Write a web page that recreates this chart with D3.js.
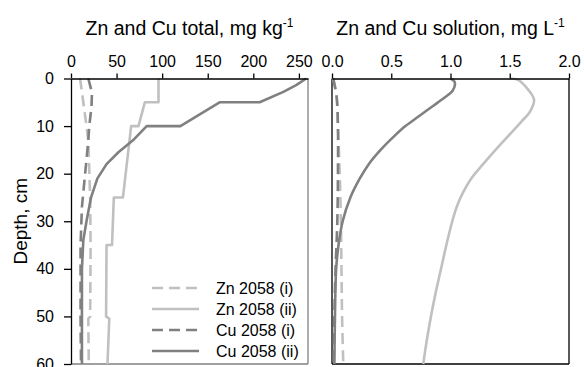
<!DOCTYPE html>
<html><head><meta charset="utf-8">
<script src="https://cdn.jsdelivr.net/npm/d3@7"></script>
<style>body{margin:0;background:#fff}svg{display:block}text{font-family:"Liberation Sans",Arial,sans-serif}</style>
</head><body>
<svg id="c" width="584" height="367"></svg>
<script>
// ---- data ----
const depthTicks = [0,10,20,30,40,50,60];
const totalTicks = [0,50,100,150,200,250];
const solTicks = [0,0.5,1.0,1.5,2.0];
const legendLabels = ["Zn 2058 (i)","Zn 2058 (ii)","Cu 2058 (i)","Cu 2058 (ii)"];

// Total (mg/kg) profiles: depth (cm) and value
const znTotI_depth = [0,5,10,13,25,35,50,50.5,60];
const znTotI_val   = [10,13.5,17,19,21,21.5,21,19,19.5];
const znTotII_depth = [0,5,5,10,10,25,25,35,35,50,50.5,60];
const znTotII_val   = [96,96,81,74,66,57,47,45,39,38.5,42,40];
const cuTotI_depth = [0,3,6,10,13,20,27,35,50,60];
const cuTotI_val   = [19,23,22.5,20,19,15.5,12,10.5,10.5,11];
const cuTotII_depth = [0,1.4,2.8,5,5,10,10,13,15.5,18,21,25,30,34,40,50,60];
const cuTotII_val   = [258,247,233,207,163,120,83,68,52,39,29,22,17,13.5,12,12,12];

// Solution (mg/L) profiles
const znSolI_depth = [0,3,10,20,30,40,50,60];
const znSolI_val   = [0.01,0.035,0.05,0.065,0.075,0.08,0.085,0.095];
const znSolII_depth = [0,0.3,2.4,4.5,7,9,12,15,18,21,24,27,30,35,40,45,50,55,60];
const znSolII_val   = [1.50,1.57,1.657,1.705,1.67,1.60,1.49,1.38,1.275,1.175,1.105,1.052,1.015,0.965,0.92,0.875,0.835,0.80,0.77];
const cuSolI_depth = [0,4,10,20,30,40,50,60];
const cuSolI_val   = [0.01,0.04,0.05,0.05,0.045,0.03,0.02,0.015];
const cuSolII_depth = [0,0.7,2.5,4,6,8,10,12,15,18,21,25,30,35,40,50,60];
const cuSolII_val   = [1.0,1.035,1.02,0.95,0.84,0.73,0.62,0.53,0.41,0.31,0.235,0.155,0.09,0.055,0.035,0.025,0.02];

// ---- styles ----
const ZN = "#c0c0c0", CU = "#808080";
const DASH = "11,6";
const styles = [
  {color:ZN, dash:DASH},
  {color:ZN, dash:null},
  {color:CU, dash:DASH},
  {color:CU, dash:null}
];

const svg = d3.select("#c");
const y = d3.scaleLinear().domain([0,60]).range([78.5,364]);
const xT = d3.scaleLinear().domain([0,260]).range([71,308]);
const xS = d3.scaleLinear().domain([0,2]).range([332,569]);

const zip = (d,v)=>d.map((dd,i)=>[v[i],dd]);

function drawLines(x, sets, curve){
  sets.forEach((s,i)=>{
    const line = d3.line().x(p=>x(p[0])).y(p=>y(p[1])).curve(curve);
    svg.append("path").attr("d", line(s))
      .attr("fill","none").attr("stroke",styles[i].color)
      .attr("stroke-width",2.6)
      .attr("stroke-dasharray",styles[i].dash)
      .attr("stroke-linejoin","round");
  });
}

// left panel frame
svg.append("line").attr("x1",xT.range()[1]).attr("x2",xT.range()[1]).attr("y1",y(0)).attr("y2",y(60)).attr("stroke","#808080").attr("stroke-width",1.3);
svg.append("line").attr("x1",xT.range()[0]).attr("x2",xT.range()[1]).attr("y1",y(60)).attr("y2",y(60)).attr("stroke","#808080").attr("stroke-width",1.3);
// right panel frame
svg.append("line").attr("x1",xS(2)).attr("x2",xS(2)).attr("y1",y(0)).attr("y2",y(60)).attr("stroke","#000").attr("stroke-width",1.3);
svg.append("line").attr("x1",xS(0)).attr("x2",xS(2)).attr("y1",y(60)).attr("y2",y(60)).attr("stroke","#000").attr("stroke-width",1.3);
svg.append("line").attr("x1",xS(0)).attr("x2",xS(0)).attr("y1",y(0)).attr("y2",y(60)).attr("stroke","#000").attr("stroke-width",1.3);

drawLines(xT, [zip(znTotI_depth,znTotI_val), zip(znTotII_depth,znTotII_val), zip(cuTotI_depth,cuTotI_val), zip(cuTotII_depth,cuTotII_val)], d3.curveLinear);
drawLines(xS, [zip(znSolI_depth,znSolI_val), zip(znSolII_depth,znSolII_val), zip(cuSolI_depth,cuSolI_val), zip(cuSolII_depth,cuSolII_val)], d3.curveCatmullRom);

function styleAxis(g){
  g.selectAll("path.domain").attr("stroke","#000").attr("stroke-width",1.3);
  g.selectAll(".tick line").attr("stroke","#000").attr("stroke-width",1.3);
  g.selectAll("text").attr("font-size",16).attr("fill","#000").attr("font-family",'"Liberation Sans",Arial,sans-serif');
}
// axes
const gxT = svg.append("g").attr("transform",`translate(0,${y(0)})`)
  .call(d3.axisTop(xT).tickValues(totalTicks).tickSize(5).tickSizeOuter(0).tickPadding(7).tickFormat(d3.format("d")));
styleAxis(gxT);
const gxS = svg.append("g").attr("transform",`translate(0,${y(0)})`)
  .call(d3.axisTop(xS).tickValues(solTicks).tickSize(5).tickSizeOuter(0).tickPadding(7).tickFormat(d3.format(".1f")));
styleAxis(gxS);
const gy = svg.append("g").attr("transform",`translate(${xT(0)},0)`)
  .call(d3.axisLeft(y).tickValues(depthTicks).tickSize(7).tickSizeOuter(0).tickPadding(10));
styleAxis(gy);

// titles
function title(cx, main){
  const t = svg.append("text").attr("x",cx).attr("y",35).attr("text-anchor","middle").attr("font-size",19.5).attr("fill","#000");
  t.append("tspan").text(main);
  t.append("tspan").attr("dy",-8).attr("font-size",12).text("-1");
}
title((xT.range()[0]+xT.range()[1])/2, "Zn and Cu total, mg kg");
title((xS.range()[0]+xS.range()[1])/2, "Zn and Cu solution, mg L");

svg.append("text").attr("transform",`translate(27,${(y(0)+y(60))/2}) rotate(-90)`)
  .attr("text-anchor","middle").attr("font-size",19).attr("fill","#000").text("Depth, cm");

// legend
const legY = [288, 309, 330, 351];
legendLabels.forEach((lab,i)=>{
  svg.append("line").attr("x1",152).attr("x2",199).attr("y1",legY[i]).attr("y2",legY[i])
    .attr("stroke",styles[i].color).attr("stroke-width",2.6).attr("stroke-dasharray",styles[i].dash);
  svg.append("text").attr("x",216).attr("y",legY[i]+5.5).attr("font-size",16).attr("fill","#000").text(lab);
});
</script>
</body></html>
